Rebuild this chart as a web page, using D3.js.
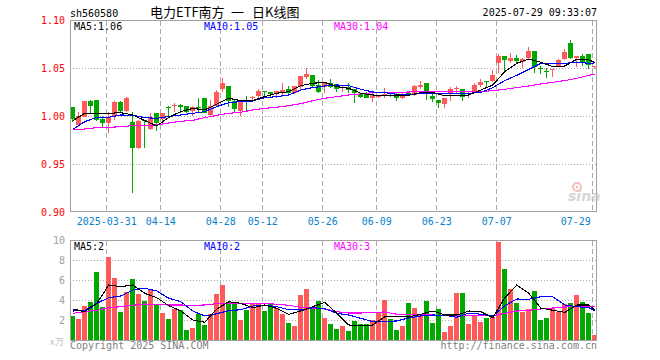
<!DOCTYPE html>
<html lang="zh-CN">
<head>
<meta charset="UTF-8">
<title>电力ETF南方 日K线图</title>
<script src="https://cdn.jsdelivr.net/npm/d3@7"></script>
<style>
    body { margin: 0; background: #fff; }
    svg { display: block; }
    text { font-family: "DejaVu Sans Mono", monospace; font-size: 10px; }
    text.cjk { font-family: "Noto Sans CJK SC", sans-serif; font-size: 13px; }
</style>
</head>
<body>
<svg width="660" height="360"></svg>
<script>
    // trading days shown (2025)
    var dates = ["03-21","03-24","03-25","03-26","03-27","03-28",
        "03-31","04-01","04-02","04-03","04-07","04-08","04-09","04-10","04-11",
        "04-14","04-15","04-16","04-17","04-18","04-21","04-22","04-23","04-24","04-25",
        "04-28","04-29","04-30","05-06","05-07","05-08","05-09",
        "05-12","05-13","05-14","05-15","05-16","05-19","05-20","05-21","05-22","05-23",
        "05-26","05-27","05-28","05-29","05-30","06-03","06-04","06-05","06-06",
        "06-09","06-10","06-11","06-12","06-13","06-16","06-17","06-18","06-19","06-20",
        "06-23","06-24","06-25","06-26","06-27","06-30","07-01","07-02","07-03","07-04",
        "07-07","07-08","07-09","07-10","07-11","07-14","07-15","07-16","07-17","07-18",
        "07-21","07-22","07-23","07-24","07-25","07-28","07-29"];

    var open = [1.0094,0.9906,0.9997,1.0157,1.0167,0.9969,0.9934,1.0000,1.0150,1.0059,
        0.9944,0.9665,0.9962,0.9865,1.0031,0.9969,1.0101,1.0108,1.0118,1.0108,
        1.0059,1.0094,1.0188,1.0010,1.0108,1.0281,1.0316,1.0160,1.0056,1.0160,
        1.0198,1.0212,1.0264,1.0253,1.0240,1.0240,1.0281,1.0240,1.0302,1.0413,
        1.0431,1.0326,1.0309,1.0344,1.0333,1.0302,1.0309,1.0281,1.0229,1.0240,
        1.0191,1.0205,1.0212,1.0226,1.0222,1.0194,1.0240,1.0222,1.0302,1.0344,
        1.0212,1.0170,1.0128,1.0240,1.0288,1.0281,1.0236,1.0240,1.0326,1.0364,
        1.0368,1.0559,1.0628,1.0580,1.0604,1.0569,1.0604,1.0681,1.0507,1.0467,
        1.0483,1.0528,1.0594,1.0760,1.0604,1.0628,1.0649,1.0517];
    var high = [1.0097,1.0045,1.0160,1.0170,1.0170,1.0005,1.0048,1.0155,1.0155,1.0200,
        1.0045,0.9958,0.9965,1.0035,1.0035,1.0031,1.0108,1.0142,1.0128,1.0110,
        1.0108,1.0188,1.0190,1.0170,1.0274,1.0396,1.0318,1.0170,1.0160,1.0212,
        1.0212,1.0281,1.0266,1.0255,1.0266,1.0351,1.0316,1.0318,1.0422,1.0507,
        1.0433,1.0378,1.0361,1.0385,1.0335,1.0311,1.0344,1.0283,1.0247,1.0257,
        1.0247,1.0222,1.0292,1.0236,1.0247,1.0240,1.0247,1.0326,1.0372,1.0346,
        1.0257,1.0172,1.0188,1.0309,1.0316,1.0283,1.0253,1.0344,1.0385,1.0366,
        1.0483,1.0649,1.0630,1.0656,1.0639,1.0604,1.0726,1.0683,1.0524,1.0500,
        1.0493,1.0594,1.0698,1.0795,1.0632,1.0649,1.0651,1.0524];
    var low = [0.9938,0.9885,0.9990,1.0030,0.9955,0.9885,0.9826,0.9962,1.0031,1.0049,
        0.9203,0.9660,0.9665,0.9858,0.9851,0.9944,0.9979,1.0049,1.0031,1.0031,
        1.0003,1.0049,1.0036,1.0003,1.0101,1.0257,1.0101,1.0049,1.0003,1.0059,
        1.0153,1.0170,1.0205,1.0188,1.0188,1.0222,1.0215,1.0233,1.0274,1.0392,
        1.0309,1.0247,1.0247,1.0299,1.0257,1.0257,1.0247,1.0142,1.0188,1.0188,
        1.0149,1.0191,1.0188,1.0198,1.0160,1.0184,1.0212,1.0215,1.0281,1.0170,
        1.0153,1.0090,1.0087,1.0160,1.0240,1.0163,1.0188,1.0238,1.0302,1.0299,
        1.0361,1.0455,1.0476,1.0559,1.0545,1.0500,1.0594,1.0448,1.0438,1.0403,
        1.0413,1.0510,1.0587,1.0594,1.0510,1.0524,1.0493,1.0493];
    var close = [0.9972,1.0000,1.0157,1.0111,0.9958,0.9934,0.9995,1.0150,1.0059,1.0191,
        0.9672,0.9955,0.9958,0.9995,0.9934,1.0031,1.0087,1.0118,1.0094,1.0045,
        1.0094,1.0087,1.0038,1.0108,1.0253,1.0351,1.0163,1.0076,1.0153,1.0153,
        1.0205,1.0264,1.0253,1.0233,1.0264,1.0274,1.0247,1.0316,1.0420,1.0441,
        1.0316,1.0257,1.0344,1.0309,1.0281,1.0309,1.0274,1.0240,1.0198,1.0191,
        1.0222,1.0215,1.0229,1.0212,1.0188,1.0233,1.0222,1.0316,1.0326,1.0240,
        1.0184,1.0142,1.0188,1.0281,1.0295,1.0205,1.0243,1.0326,1.0361,1.0358,
        1.0434,1.0628,1.0587,1.0604,1.0576,1.0594,1.0684,1.0517,1.0490,1.0465,
        1.0493,1.0587,1.0667,1.0611,1.0632,1.0559,1.0535,1.0524];
    // volume, unit 万
    var volume = [2.4,2.1,3.4,3.8,6.8,3.33,8.33,6.2,2.8,4.8,
        6.13,4.6,3.93,5.0,3.53,2.73,2.1,3.13,3.0,1.0,
        1.2,2.6,1.53,2.6,4.6,5.53,3.8,3.6,2.0,3.0,
        3.67,3.67,2.93,3.6,3.2,2.6,1.73,1.4,4.53,5.13,
        3.2,3.93,2.2,1.6,1.1,1.43,0.9,1.9,1.6,1.6,
        2.0,2.73,4.0,2.1,1.0,1.43,3.7,3.2,2.5,3.9,
        1.7,3.1,0.8,1.43,4.7,4.7,1.6,2.43,1.8,2.2,
        2.33,9.83,7.13,5.13,3.7,2.83,3.1,4.9,2.0,2.2,
        3.23,2.83,3.6,3.7,4.5,3.8,2.7,0.5];

    // moving averages, read every second bar
    var maIdx = [0,2,4,6,8,10,12,14,16,18,20,22,24,26,28,30,32,34,36,38,40,42,44,
        46,48,50,52,54,56,58,60,62,64,66,68,70,72,74,76,78,80,82,84,86,87];
    var ma5 = [0.9955,1.0031,1.0031,1.0031,1.0038,1.0014,0.9955,0.9899,0.9990,1.0049,
        1.0083,1.0066,1.0128,1.0188,1.0163,1.0163,1.0205,1.0240,1.0257,1.0319,
        1.0344,1.0354,1.0309,1.0292,1.0240,1.0222,1.0212,1.0222,1.0219,1.0247,
        1.0247,1.0215,1.0212,1.0222,1.0274,1.0326,1.0465,1.0552,1.0597,1.0563,
        1.0517,1.0524,1.0594,1.0587,1.0563];
    var ma10 = [0.9865,0.9944,0.9990,0.9990,1.0014,1.0010,0.9986,0.9979,0.9997,1.0014,
        1.0031,1.0049,1.0101,1.0142,1.0153,1.0160,1.0194,1.0205,1.0222,1.0274,
        1.0299,1.0316,1.0326,1.0319,1.0281,1.0253,1.0247,1.0229,1.0222,1.0240,
        1.0240,1.0236,1.0240,1.0240,1.0247,1.0299,1.0372,1.0427,1.0490,1.0552,
        1.0552,1.0552,1.0563,1.0552,1.0556];
    var ma30 = [0.9858,0.9868,0.9882,0.9885,0.9892,0.9903,0.9899,0.9910,0.9931,0.9948,
        0.9958,0.9986,1.0010,1.0031,1.0042,1.0066,1.0083,1.0094,1.0111,1.0132,
        1.0163,1.0188,1.0205,1.0222,1.0233,1.0247,1.0250,1.0250,1.0253,1.0257,
        1.0257,1.0257,1.0257,1.0257,1.0257,1.0267,1.0281,1.0299,1.0316,1.0337,
        1.0354,1.0372,1.0396,1.0427,1.0438];
    var vma5 = [3.1,2.83,3.67,5.5,5.33,5.5,4.67,4.23,3.43,2.9,
        2.0,1.77,3.1,3.83,3.67,3.23,3.5,3.17,2.57,2.9,
        3.33,3.77,2.67,1.5,1.43,1.5,2.33,2.33,2.3,2.57,
        2.9,2.5,2.5,2.9,2.83,2.23,4.23,5.5,4.67,3.2,
        2.97,2.77,3.5,3.5,3.0];
    var vma10 = [2.9,2.97,3.67,4.23,4.4,5.0,5.17,4.9,4.17,3.83,
        2.9,2.4,2.63,2.93,3.03,3.4,3.5,3.33,3.03,3.0,
        3.23,3.13,2.67,2.5,2.17,1.83,1.87,1.9,2.2,2.4,
        2.5,2.47,2.27,2.7,2.57,2.4,3.43,4.1,4.07,4.33,
        4.33,3.5,3.33,3.23,2.93];
    var vma30 = [2.67,2.83,2.97,3.23,3.33,3.47,3.6,3.53,3.5,3.5,
        3.47,3.5,3.63,3.67,3.67,3.67,3.67,3.57,3.47,3.27,
        3.17,3.1,2.83,2.7,2.7,2.77,2.8,2.57,2.57,2.5,
        2.5,2.47,2.47,2.47,2.43,2.43,2.67,2.9,2.97,3.1,
        3.2,3.3,3.37,3.4,3.33];

    var tickDates = ["03-31","04-14","04-28","05-12","05-26","06-09","06-23","07-07","07-29"];
    var tickLabels = ["2025-03-31","04-14","04-28","05-12","05-26","06-09","06-23","07-07","07-29"];
    var priceTicks = [0.90, 0.95, 1.00, 1.05, 1.10];
    var volTicks = [2, 4, 6, 8, 10];
    var maLegend = ["MA5:1.06", "MA10:1.05", "MA30:1.04"];
    var volLegend = ["MA5:2", "MA10:2", "MA30:3"];
    var maColors = ["#000000", "#0000ff", "#ff00ff"];

    var RED = "#ff5a5a", GREEN = "#00a800", FRAME = "#a0a0a0", GRID = "#aaaaaa";
    var left = 70, right = 597;

    var svg = d3.select("svg");
    svg.append("rect").attr("width", 660).attr("height", 360).attr("fill", "#fff");

    var x = d3.scaleBand().domain(dates).range([69.8, 597.8]);
    var cx = d => x(d) + x.bandwidth() / 2;
    var px = v => Math.floor(v) + 0.5;
    var y = d3.scaleLinear().domain([0.90, 1.10]).range([212.3, 20.3]);
    var yv = d3.scaleLinear().domain([0, 10]).range([340, 240]);

    var bars = dates.map((d, i) => ({date: d, o: open[i], h: high[i], l: low[i], c: close[i], v: volume[i]}));
    var colorOf = b => b.c >= b.o ? RED : GREEN;

    // header
    svg.append("text").attr("x", 70).attr("y", 17).text("sh560580");
    svg.append("text").attr("class", "cjk").attr("x", 150).attr("y", 17).text("电力ETF南方");
    svg.append("text").attr("class", "cjk").attr("x", 231).attr("y", 17).text("一");
    svg.append("text").attr("class", "cjk").attr("x", 252).attr("y", 17).text("日K线图");
    svg.append("text").attr("x", 597).attr("y", 16).attr("text-anchor", "end").text("2025-07-29 09:33:07");

    function panel(yScale, top, bottom, ticks, fmt, labelColor) {
        var g = svg.append("g").attr("shape-rendering", "crispEdges");
        g.selectAll("line.h").data(ticks.filter(t => px(yScale(t)) > top + 1 && px(yScale(t)) < bottom - 1))
            .join("line")
            .attr("x1", left).attr("x2", right)
            .attr("y1", t => px(yScale(t))).attr("y2", t => px(yScale(t)))
            .attr("stroke", GRID).attr("stroke-dasharray", "1,2");
        g.selectAll("line.v").data(tickDates)
            .join("line")
            .attr("x1", d => px(x(d) + 1)).attr("x2", d => px(x(d) + 1))
            .attr("y1", top).attr("y2", bottom)
            .attr("stroke", GRID).attr("stroke-dasharray", "5,3");
        svg.append("g").selectAll("text").data(ticks)
            .join("text")
            .attr("x", 65).attr("y", t => yScale(t) + 4)
            .attr("text-anchor", "end")
            .attr("fill", labelColor)
            .text(fmt);
    }
    panel(y, 20.5, 211.5, priceTicks, d3.format(".2f"), "#ff0000");
    panel(yv, 240.5, 340.5, volTicks, d => d, "#a0a0a0");

    // candles
    var candle = svg.append("g").attr("shape-rendering", "crispEdges")
        .selectAll("g").data(bars).join("g");
    candle.append("line")
        .attr("x1", d => px(cx(d.date))).attr("x2", d => px(cx(d.date)))
        .attr("y1", d => y(d.h)).attr("y2", d => y(d.l))
        .attr("stroke", colorOf);
    candle.append("rect")
        .attr("x", d => Math.round(cx(d.date) - 2.5)).attr("width", 5)
        .attr("y", d => y(Math.max(d.o, d.c)))
        .attr("height", d => Math.max(1, Math.abs(y(d.o) - y(d.c))))
        .attr("fill", colorOf);

    // volume bars
    svg.append("g").attr("shape-rendering", "crispEdges")
        .selectAll("rect").data(bars).join("rect")
        .attr("x", d => Math.round(cx(d.date) - 2.5)).attr("width", 5)
        .attr("y", d => yv(d.v)).attr("height", d => yv(0) - yv(d.v))
        .attr("fill", colorOf);

    // moving average lines
    function maLine(yScale, values, color) {
        var line = d3.line()
            .x((v, k) => cx(dates[maIdx[k]]))
            .y(v => yScale(v));
        svg.append("path")
            .attr("d", line(values))
            .attr("fill", "none")
            .attr("stroke", color)
            .attr("stroke-width", 1.1)
            .attr("shape-rendering", "crispEdges");
    }
    [ma30, ma10, ma5].forEach((m, k) => maLine(y, m, maColors[2 - k]));
    [vma30, vma10, vma5].forEach((m, k) => maLine(yv, m, maColors[2 - k]));

    // frames
    var frames = svg.append("g").attr("fill", "none").attr("stroke", FRAME).attr("shape-rendering", "crispEdges");
    frames.append("rect").attr("x", 70.5).attr("y", 20.5).attr("width", 526).attr("height", 191);
    frames.append("rect").attr("x", 70.5).attr("y", 240.5).attr("width", 526).attr("height", 100);

    // legends
    var legendX = [74, 204, 334];
    svg.append("g").selectAll("text").data(maLegend).join("text")
        .attr("x", (d, i) => legendX[i]).attr("y", 30)
        .attr("fill", (d, i) => maColors[i]).text(d => d);
    svg.append("g").selectAll("text").data(volLegend).join("text")
        .attr("x", (d, i) => legendX[i]).attr("y", 250)
        .attr("fill", (d, i) => maColors[i]).text(d => d);

    // date labels
    svg.append("g").selectAll("text").data(tickDates).join("text")
        .attr("x", (d, i) => i === tickDates.length - 1 ? x(d) - 1 : x(d) + 1)
        .attr("y", 225)
        .attr("text-anchor", (d, i) => i === tickDates.length - 1 ? "end" : "middle")
        .attr("fill", "#0a7fcc")
        .text((d, i) => tickLabels[i]);

    // footer
    svg.append("text").attr("x", 64).attr("y", 345).attr("text-anchor", "end")
        .attr("fill", "#c0c0c0").style("font-size", "9px").text("x万");
    svg.append("text").attr("x", 70).attr("y", 349).attr("fill", "#808080").text("Copyright 2025 SINA.COM");
    svg.append("text").attr("x", 597).attr("y", 349).attr("text-anchor", "end").attr("fill", "#808080")
        .text("http://finance.sina.com.cn");

    // sina watermark
    var wm = svg.append("g").attr("opacity", 0.75);
    wm.append("circle").attr("cx", 577).attr("cy", 187).attr("r", 4)
        .attr("fill", "none").attr("stroke", "#f3a5a5").attr("stroke-width", 2);
    wm.append("circle").attr("cx", 577).attr("cy", 187).attr("r", 1.3).attr("fill", "#f3a5a5");
    wm.append("text").attr("x", 568).attr("y", 201)
        .style("font-family", "'DejaVu Sans', sans-serif").style("font-size", "14px")
        .style("font-style", "italic").style("font-weight", "bold")
        .attr("fill", "#c8c8c8").text("sina");
</script>
</body>
</html>
